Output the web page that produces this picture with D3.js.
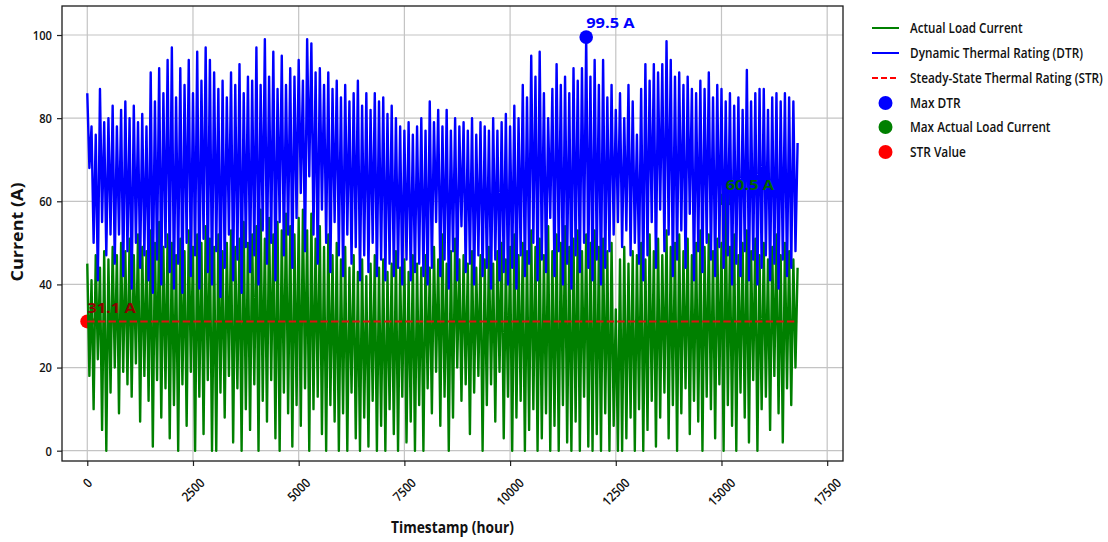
<!DOCTYPE html>
<html><head><meta charset="utf-8">
<script src="https://cdn.jsdelivr.net/npm/d3@7"></script>
<style>body{margin:0;background:#fff} svg{display:block}</style>
</head><body>
<svg id="c" width="1108" height="542"></svg>
<script>
// ---------- data (one hi/lo pair per 100-hour bin) ----------
const binHours = 100;
const dtrHi = [86,78,76,87,79,80,83,78,82,84,
 80,83,79,81,78,91,84,92,86,94,
 97,85,92,88,94,86,96,89,97,94,
 91,87,89,85,91,88,93,86,90,89,
 97,88,99,90,96,87,95,88,92,90,
 94,89,99,98,91,92,88,91,87,89,
 85,88,84,86,89,83,86,82,86,84,
 85,81,83,80,78,77,79,76,78,80,
 77,84,79,82,78,82,77,80,78,79,
 77,80,76,79,78,77,80,77,79,81,
 78,83,80,88,85,95,90,96,86,80,
 87,93,88,90,86,92,89,92,99.5,90,
 94,88,94,85,88,82,86,80,88,84,
 76,87,93,89,93,91,93,98.5,94,90,
 91,88,90,87,86,89,87,91,85,88,
 87,84,86,83,85,82,91.6,84,86,87,
 87,82,85,86,84,86,85,84,74];
const dtrLo = [68,50,41,55,47,52,45,52,42,48,
 39,50,44,47,41,38,46,40,49,43,
 39,45,38,50,42,47,39,51,43,40,
 48,37,44,52,41,46,38,49,43,47,
 40,53,45,50,41,55,47,52,44,56,
 62,48,66,52,45,58,50,43,55,47,
 42,52,45,49,41,47,43,50,42,46,
 41,45,42,44,40,46,41,43,45,42,
 40,44,55,42,46,39,48,41,54,43,
 45,40,47,42,44,39,46,41,43,40,
 44,39,47,42,45,50,41,46,43,56,
 42,48,40,45,39,47,43,50,44,41,
 46,40,44,48,52,55,49,53,47,50,
 45,41,47,55,44,58,48,52,42,46,
 53,44,57,41,48,43,50,46,42,49,
 44,47,40,45,42,48,41,46,40,44,
 47,41,45,39,46,42,44,48];
const loadHi = [45,41,47,44,48,46,49,47,50,48,
 51,47,52,49,48,53,50,55,49,52,
 50,47,51,48,53,49,52,50,54,51,
 49,52,48,50,53,49,51,55,50,52,
 54,58,51,56,52,55,53,57,54,52,
 56,58,53,57,51,54,49,52,47,50,
 46,49,44,47,43,46,42,45,47,44,
 46,43,45,48,44,46,43,47,45,44,
 47,44,49,46,52,45,48,51,46,47,
 45,48,44,47,46,49,45,48,50,46,
 49,52,47,50,48,53,49,51,47,54,
 48,52,50,54,49,51,53,48,52,50,
 53,49,51,48,50,34,46,49,45,48,
 47,50,46,52,48,51,47,53,49,50,
 52,48,51,47,50,53,49,52,48,51,
 50,60.5,49,52,47,50,53,48,51,47,
 50,46,49,52,47,50,48,46,44];
const loadLo = [18,10,22,5,0,14,20,9,19,16,
 13,21,7,18,12,1,17,8,15,3,
 11,0,16,6,19,0,13,4,17,0,
 0,14,8,18,2,15,0,10,5,16,
 0,12,7,17,3,0,14,9,1,11,
 6,15,0,10,13,4,0,11,7,0,
 9,0,14,3,0,8,1,12,0,6,
 0,10,4,0,13,2,7,0,11,0,
 15,9,19,6,13,0,8,20,12,16,
 4,14,18,0,11,16,7,19,3,13,
 0,8,12,0,5,10,0,3,9,0,
 6,0,11,2,0,7,0,13,1,0,
 4,0,9,0,6,0,0,3,8,0,
 10,0,5,12,1,8,14,3,11,0,
 9,15,4,12,7,0,13,10,3,16,
 0,11,6,0,14,8,2,17,0,10,
 13,5,18,9,2,15,11,20];
const strValue = 31.1;
const xTicks = [0,2500,5000,7500,10000,12500,15000,17500];
const yTicks = [0,20,40,60,80,100];
const legendLabels = ["Actual Load Current","Dynamic Thermal Rating (DTR)","Steady-State Thermal Rating (STR)","Max DTR","Max Actual Load Current","STR Value"];

// ---------- drawing ----------
const svg = d3.select('#c');
const L = 62, R = 843, T = 6, B = 461;
const x = d3.scaleLinear().domain([-598, 17874]).range([L, R]);
const y = d3.scaleLinear().domain([-2.48, 106.98]).range([B, T]);
const FONT = "'Open Sans','Liberation Sans',sans-serif";

// text placed at (px,py), optionally rotated, horizontally scaled to a target width
function addText(parent, o){
  const t = parent.append('text').attr('x',0).attr('y',0)
    .attr('text-anchor', o.anchor || 'start')
    .attr('dominant-baseline', o.baseline || 'auto')
    .attr('font-family', FONT).attr('font-weight', o.weight || 600)
    .attr('font-size', o.size || 13).attr('fill', o.color || '#111').text(o.text);
  const natural = t.node().getComputedTextLength();
  const s = o.width ? o.width / natural : 1;
  t.attr('transform', `translate(${o.x},${o.y}) rotate(${o.rotate || 0}) scale(${s},1)`);
  return t;
}
function series(hi, lo){
  const pts = [];
  for (let i = 0; i < hi.length; i++){
    pts.push([i*binHours, hi[i]]);
    if (i < lo.length) pts.push([i*binHours + binHours/2, lo[i]]);
  }
  return pts;
}
const loadPts = series(loadHi, loadLo);
const dtrPts = series(dtrHi, dtrLo);
const tEnd = (dtrHi.length - 1) * binHours;

svg.append('defs').append('clipPath').attr('id','plotclip')
  .append('rect').attr('x',L).attr('y',T).attr('width',R-L).attr('height',B-T);

// grid
const grid = svg.append('g').attr('stroke','#c4c4c4').attr('stroke-width',1.2);
grid.selectAll('.gx').data(xTicks).join('line')
  .attr('x1',d=>x(d)).attr('x2',d=>x(d)).attr('y1',T).attr('y2',B);
grid.selectAll('.gy').data(yTicks).join('line')
  .attr('y1',d=>y(d)).attr('y2',d=>y(d)).attr('x1',L).attr('x2',R);

const plot = svg.append('g').attr('clip-path','url(#plotclip)');

// markers (under lines)
const maxDtrIdx = d3.maxIndex(dtrHi);
const maxLoadIdx = d3.maxIndex(loadHi);
const maxDtr = [maxDtrIdx*binHours, dtrHi[maxDtrIdx]];
const maxLoad = [maxLoadIdx*binHours, loadHi[maxLoadIdx]];
const strPt = [0, strValue];

plot.append('circle').attr('cx',x(strPt[0])).attr('cy',y(strPt[1])).attr('r',7).attr('fill','red');
plot.append('circle').attr('cx',x(maxLoad[0])).attr('cy',y(maxLoad[1])).attr('r',7).attr('fill','green');
plot.append('circle').attr('cx',x(maxDtr[0])).attr('cy',y(maxDtr[1])).attr('r',6.8).attr('fill','blue');

const line = d3.line().x(d=>x(d[0])).y(d=>y(d[1]));
plot.append('path').attr('d',line(loadPts)).attr('fill','none').attr('stroke','green')
  .attr('stroke-width',2.4).attr('stroke-linejoin','round');
plot.append('path').attr('d',line(dtrPts)).attr('fill','none').attr('stroke','blue')
  .attr('stroke-width',2.4).attr('stroke-linejoin','round');
plot.append('path').attr('d',line([[0,strValue],[tEnd,strValue]])).attr('fill','none')
  .attr('stroke','#e01010').attr('stroke-width',2).attr('stroke-dasharray','7.4,3.2');

// annotations
function note(pt, txt, color){
  addText(svg, {x: x(pt[0]), y: y(pt[1]+2.1), text: txt, color, weight: 700, size: 15, width: 48.5});
}
note(maxDtr, maxDtr[1].toFixed(1)+' A', 'blue');
note(maxLoad, maxLoad[1].toFixed(1)+' A', '#006400');
note(strPt, strValue.toFixed(1)+' A', '#8b0000');

// axes (tick marks via d3 axes, labels placed with the same scales)
const xAxis = svg.append('g').attr('transform',`translate(0,${B})`)
  .call(d3.axisBottom(x).tickValues(xTicks).tickSize(5).tickFormat(''));
xAxis.select('.domain').remove();
xAxis.selectAll('line').attr('stroke','#222').attr('stroke-width',1.2);
xTicks.forEach(d=>{
  const s = String(d); const len = 6.5*s.length;
  const cy = B + 16 + (len + 10)*0.3536;
  addText(svg, {x: x(d), y: cy, text: s, anchor: 'middle', baseline: 'central', rotate: -45, size: 13, width: len});
});

const yAxis = svg.append('g').attr('transform',`translate(${L},0)`)
  .call(d3.axisLeft(y).tickValues(yTicks).tickSize(5).tickFormat(''));
yAxis.select('.domain').remove();
yAxis.selectAll('line').attr('stroke','#222').attr('stroke-width',1.2);
yTicks.forEach(d=>{
  const s = String(d);
  addText(svg, {x: L - 10, y: y(d), text: s, anchor: 'end', baseline: 'central', size: 13, width: 6.4*s.length});
});

// spines
svg.append('rect').attr('x',L).attr('y',T).attr('width',R-L).attr('height',B-T)
  .attr('fill','none').attr('stroke','#1a1a1a').attr('stroke-width',1.3);

// axis titles
addText(svg, {x: 452.5, y: 533, text: 'Timestamp (hour)', anchor: 'middle', weight: 700, size: 15.5, width: 123});
addText(svg, {x: 23, y: 232, text: 'Current (A)', anchor: 'middle', weight: 700, size: 15.5, width: 99, rotate: -90});

// legend
const legW = [112.7,173,193,50.7,140.7,56];
const legRows = [28,53,78,103,127,152];
const leg = svg.append('g');
legendLabels.forEach((lab,i)=>{
  const yy = legRows[i];
  if (i < 3){
    const col = ['green','blue','red'][i];
    const ln = leg.append('line').attr('x1',872).attr('x2',899).attr('y1',yy).attr('y2',yy)
      .attr('stroke',col).attr('stroke-width',2);
    if (i === 2) ln.attr('stroke-dasharray','6,3');
  } else {
    leg.append('circle').attr('cx',885.5).attr('cy',yy).attr('r',7)
      .attr('fill',['blue','green','red'][i-3]);
  }
  addText(leg, {x: 910, y: yy, text: lab, baseline: 'central', size: 14, width: legW[i]});
});
</script>
</body></html>
